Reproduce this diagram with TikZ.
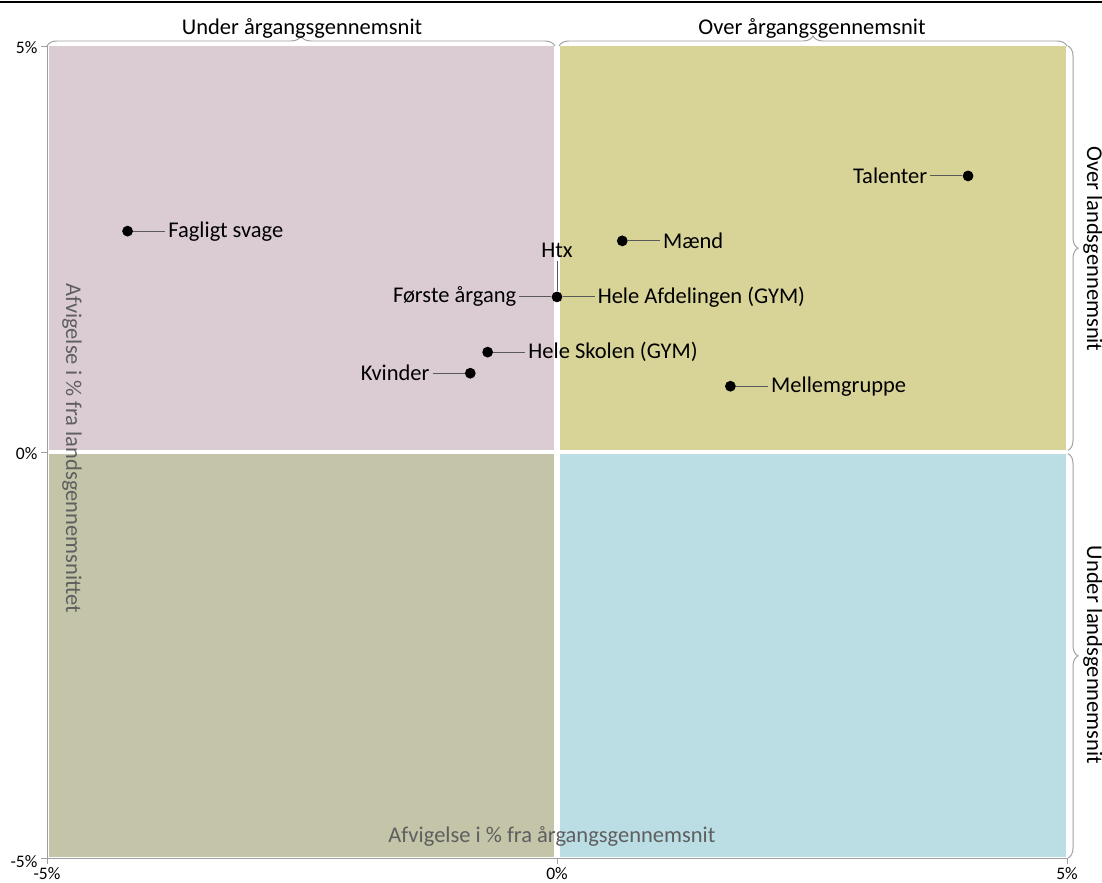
\documentclass[tikz,border=0pt]{standalone}
\usepackage{fontspec}
\setmainfont{Carlito}
\usepackage{tikz}
\usetikzlibrary{positioning, decorations.pathreplacing}

\definecolor{quadUL}{RGB}{219,204,212}
\definecolor{quadUR}{RGB}{216,212,152}
\definecolor{quadLL}{RGB}{195,196,168}
\definecolor{quadLR}{RGB}{187,222,229}
\definecolor{axgray}{RGB}{160,160,160}
\definecolor{titlegray}{RGB}{95,95,95}

\begin{document}
\begin{tikzpicture}[x=2.55cm, y=2.03cm,
    dot/.style={circle, fill=black, inner sep=0pt, minimum size=0.27cm},
    lbl/.style={font=\fontsize{16}{19}\selectfont, inner sep=2pt},
    tick/.style={font=\fontsize{12.5}{15}\selectfont, inner sep=1.5pt},
    axtitle/.style={font=\fontsize{16}{19}\selectfont, text=titlegray},
    lead/.style={black!65, line width=0.6pt},
    brc/.style={decorate, decoration={brace, amplitude=0.25cm}, draw=axgray, line width=0.7pt}]
    \useasboundingbox (-13.925cm,-10.75cm) rectangle (13.625cm,11.3cm);
    \draw[line width=1.4pt] (-13.925cm,11.25cm) -- (13.625cm,11.25cm);
    % quadrants
    \fill[quadUL] (-4.98,0.03) rectangle (-0.03,5);
    \fill[quadUR] (0.03,0.03) rectangle (4.99,5);
    \fill[quadLL] (-4.98,-4.99) rectangle (-0.03,-0.03);
    \fill[quadLR] (0.03,-4.99) rectangle (4.99,-0.03);
    % axes
    \draw[axgray, line width=0.7pt] (-5,5) -- (-5,-5) -- (5,-5);
    \foreach \t in {-5,0,5} {
        \draw[axgray, line width=0.7pt] (-5,\t) -- ++(-0.06,0);
        \draw[axgray, line width=0.7pt] (\t,-5) -- ++(0,-0.07);
    }
    \node[tick, anchor=east] (y5) at (-5.07,4.98) {5\%};
    \node[tick, anchor=east] (y0) at (-5.07,-0.02) {0\%};
    \node[tick, anchor=east] (ym5) at (-5.07,-5.04) {-5\%};
    \node[tick, anchor=north] (xm5) at (-5,-5.09) {-5\%};
    \node[tick, anchor=north] (x0) at (0,-5.09) {0\%};
    \node[tick, anchor=north] (x5) at (5,-5.09) {5\%};
    \node[axtitle, rotate=-90] (ytitle) at (-4.755,0.05) {Afvigelse i \% fra landsgennemsnittet};
    \node[axtitle] (xtitle) at (-0.05,-4.73) {Afvigelse i \% fra årgangsgennemsnit};
    % braces
    \draw[brc] (-5,5) -- (-0.02,5);
    \draw[brc] (0.02,5) -- (5,5);
    \draw[brc] (5.01,5) -- (5.01,0.02);
    \draw[brc] (5.01,-0.02) -- (5.01,-5);
    \node[lbl] (underaar) at (-2.5,5.21) {Under årgangsgennemsnit};
    \node[lbl] (overaar) at (2.5,5.21) {Over årgangsgennemsnit};
    \node[lbl, rotate=-90] (overland) at (5.255,2.5) {Over landsgennemsnit};
    \node[lbl, rotate=-90] (underland) at (5.255,-2.5) {Under landsgennemsnit};
    % groups
    \node[dot] (fs) at (-4.21,2.72) {};
    \node[dot] (tal) at (4.03,3.40) {};
    \node[dot] (maend) at (0.64,2.60) {};
    \node[dot] (afd) at (0,1.91) {};
    \node[dot] (skole) at (-0.68,1.23) {};
    \node[dot] (kv) at (-0.85,0.97) {};
    \node[dot] (mell) at (1.70,0.81) {};
    \node[lbl, right=0.8cm of fs] (fsl) {Fagligt svage};
    \node[lbl, left=0.8cm of tal] (tall) {Talenter};
    \node[lbl, right=0.8cm of maend] (maendl) {Mænd};
    \node[lbl, above=0.75cm of afd] (htxl) {Htx};
    \node[lbl, left=0.8cm of afd] (foerstel) {Første årgang};
    \node[lbl, right=0.8cm of afd] (afdl) {Hele Afdelingen (GYM)};
    \node[lbl, right=0.8cm of skole] (skolel) {Hele Skolen (GYM)};
    \node[lbl, left=0.8cm of kv] (kvl) {Kvinder};
    \node[lbl, right=0.8cm of mell] (melll) {Mellemgruppe};
    \foreach \a/\b in {fs/fsl, tal/tall, maend/maendl, afd/htxl, afd/foerstel, afd/afdl, skole/skolel, kv/kvl, mell/melll}
        \draw[lead] (\a) -- (\b);
\end{tikzpicture}
\end{document}
